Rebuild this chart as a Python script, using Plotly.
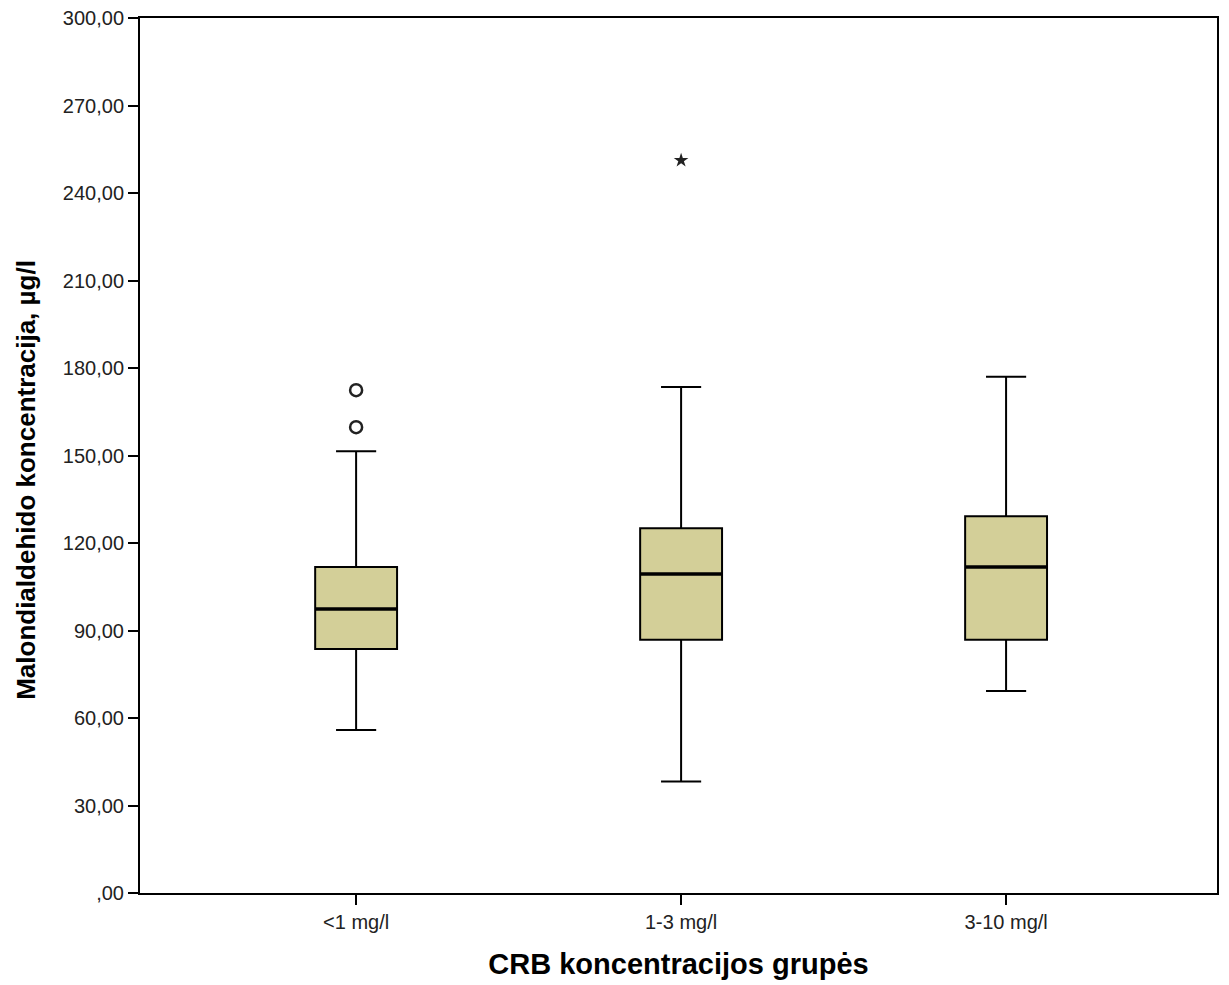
import plotly.graph_objects as go

categories = ["<1 mg/l", "1-3 mg/l", "3-10 mg/l"]
q1 = [83.7, 86.8, 86.8]
median = [97.4, 109.4, 111.8]
q3 = [111.8, 125.1, 129.2]
lower_whisker = [55.9, 38.2, 69.3]
upper_whisker = [151.5, 173.5, 177.0]
outliers_circle = {0: [172.4, 159.7]}
outliers_extreme = {1: [251.2]}
y_ticks = [0, 30, 60, 90, 120, 150, 180, 210, 240, 270, 300]
y_tick_labels = [",00", "30,00", "60,00", "90,00", "120,00", "150,00", "180,00",
                 "210,00", "240,00", "270,00", "300,00"]

xpos = list(range(len(categories)))
box_width = 0.252

fig = go.Figure()
fig.add_trace(go.Box(
    x=xpos, q1=q1, median=median, q3=q3,
    lowerfence=lower_whisker, upperfence=upper_whisker,
    width=box_width, whiskerwidth=0.49,
    fillcolor="#D3CF98", line=dict(color="black", width=2),
    boxpoints=False, showlegend=False, hoverinfo="skip",
))

# thicker median lines
for i, m in enumerate(median):
    fig.add_trace(go.Scatter(
        x=[xpos[i] - box_width / 2, xpos[i] + box_width / 2], y=[m, m],
        mode="lines", line=dict(color="black", width=3.5),
        showlegend=False, hoverinfo="skip"))

for i, vals in outliers_circle.items():
    fig.add_trace(go.Scatter(
        x=[xpos[i]] * len(vals), y=vals, mode="markers",
        marker=dict(symbol="circle-open", size=12, color="#222222", line=dict(width=2.5)),
        showlegend=False, hoverinfo="skip"))

for i, vals in outliers_extreme.items():
    fig.add_trace(go.Scatter(
        x=[xpos[i]] * len(vals), y=vals, mode="markers",
        marker=dict(symbol="star", size=11, color="#222222", line=dict(width=0)),
        showlegend=False, hoverinfo="skip"))

fig.update_layout(
    width=1229, height=985,
    margin=dict(l=140, r=12, t=18, b=92, autoexpand=False),
    plot_bgcolor="white", paper_bgcolor="white",
    font=dict(family="Liberation Sans, Arial, sans-serif", color="black"),
)
fig.add_annotation(
    text="<b>Malondialdehido koncentracija, µg/l</b>",
    xref="paper", yref="paper", x=-0.106, y=0.472,
    textangle=-90, showarrow=False, font=dict(size=26, color="black"),
    xanchor="center", yanchor="middle",
)
fig.update_xaxes(
    range=[-0.665, 2.649], automargin=False,
    tickmode="array", tickvals=xpos, ticktext=categories,
    ticks="outside", ticklen=10, tickwidth=2, tickcolor="black",
    showline=True, linecolor="black", linewidth=2, mirror=True,
    showgrid=False, zeroline=False,
    tickfont=dict(size=20, color="#222222"),
    title=dict(text="<b>CRB koncentracijos grupės</b>", font=dict(size=29), standoff=22),
)
fig.update_yaxes(
    range=[0, 300], automargin=False,
    tickmode="array", tickvals=y_ticks, ticktext=y_tick_labels,
    ticks="outside", ticklen=10, tickwidth=2, tickcolor="black",
    showline=True, linecolor="black", linewidth=2, mirror=True,
    showgrid=False, zeroline=False,
    tickfont=dict(size=20, color="#222222"),
)

fig.write_html("out.html", config={"displayModeBar": False},
               post_script="document.body.style.margin='0px';")
